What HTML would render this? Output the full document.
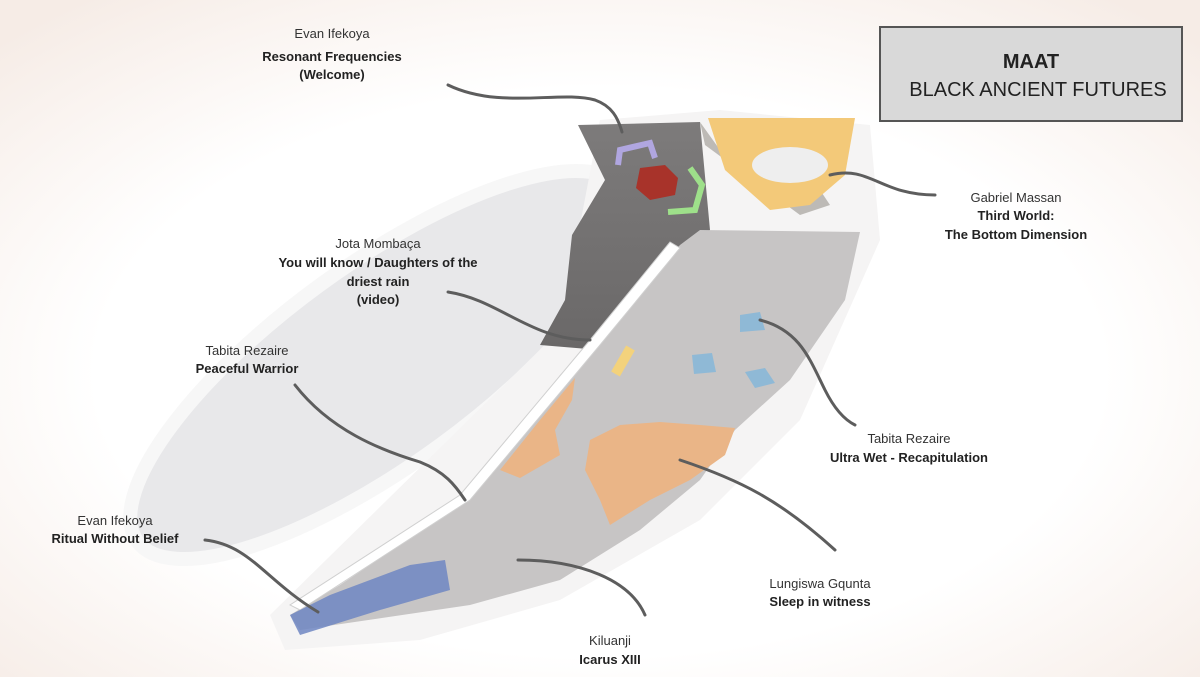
<!DOCTYPE html>
<html><head><meta charset="utf-8"><style>
html,body{margin:0;padding:0;background:#fff;}
svg{display:block;}
text{font-family:"Liberation Sans",sans-serif;font-size:13px;fill:#333;}
.b{font-weight:bold;fill:#222;}
</style></head><body>
<svg width="1200" height="677" viewBox="0 0 1200 677" xmlns="http://www.w3.org/2000/svg">
<defs>
<radialGradient id="bg" cx="0.5" cy="0.55" r="0.7">
<stop offset="0.6" stop-color="#ffffff"/><stop offset="1" stop-color="#f6ece6"/></radialGradient>
<linearGradient id="dk" x1="0" y1="0" x2="0" y2="1"><stop offset="0" stop-color="#7d7b7b"/><stop offset="1" stop-color="#6a6868"/></linearGradient>
</defs>
<rect width="1200" height="677" fill="url(#bg)"/>
<!-- ghost ellipse -->
<ellipse cx="380" cy="365" rx="300" ry="100" transform="rotate(-36 380 365)" fill="#e8e8ea" stroke="#f7f7f7" stroke-width="14"/>
<!-- outer white platform -->
<path d="M270,615 L560,330 L600,120 L720,110 L870,125 L880,240 L800,420 L700,520 L560,600 L420,640 L285,650 Z" fill="#f5f4f4"/>
<!-- dark upper area -->
<path d="M578,125 L700,122 L710,230 L690,248 L600,350 L540,345 L565,300 L572,235 L605,180 Z" fill="url(#dk)"/>
<path d="M700,122 L705,145 L800,215 L830,205 L820,190 L720,150 Z" fill="#bdbab6"/>
<!-- yellow room -->
<path d="M708,118 L855,118 L845,175 L810,205 L770,210 L725,170 Z" fill="#f3c979"/>
<ellipse cx="790" cy="165" rx="38" ry="18" fill="#eeeeee"/>
<!-- light gray main strip -->
<path d="M680,245 L700,230 L860,232 L845,300 L790,380 L735,430 L700,480 L640,530 L560,580 L470,605 L300,630 L290,615 L340,585 L460,505 L560,375 L620,310 Z" fill="#c7c5c5"/>
<!-- white wall -->
<path d="M670,242 L680,248 L600,345 L470,500 L300,610 L290,605 L460,495 L590,340 Z" fill="#ffffff" stroke="#d0d0d0"/>
<!-- orange patches -->
<path d="M500,470 L540,420 L575,378 L572,400 L555,430 L560,455 L520,478 Z" fill="#eab587"/>
<path d="M590,440 L620,425 L660,422 L700,425 L735,428 L725,455 L690,480 L650,500 L610,525 L600,500 L585,470 Z" fill="#eab587"/>
<!-- blue -->
<path d="M290,615 L330,595 L410,565 L445,560 L450,590 L380,610 L300,635 Z" fill="#6f86c2" opacity="0.85"/>
<!-- red platform & screens -->
<polygon points="640,168 665,165 678,178 675,195 650,200 636,188" fill="#a8332a"/>
<path d="M618,165 L620,150 L650,143 L655,158" fill="none" stroke="#b0a6e0" stroke-width="6"/>
<path d="M690,168 L702,185 L695,210 L668,212" fill="none" stroke="#9ee08a" stroke-width="6"/>
<!-- pyramids -->
<polygon points="740,315 760,312 765,330 740,332" fill="#8fb9d6"/>
<polygon points="692,355 712,353 716,372 694,374" fill="#8fb9d6"/>
<polygon points="745,372 765,368 775,383 755,388" fill="#8fb9d6"/>
<rect x="618" y="346" width="10" height="30" fill="#f3d27c" transform="rotate(30 623 361)"/>
<!-- connectors -->
<g fill="none" stroke="#5d5d5d" stroke-linecap="round">
<path d="M448,85 C500,110 560,90 595,100 C612,106 618,118 622,132" stroke-width="3"/>
<path d="M830,175 C870,165 880,195 935,195" stroke-width="3"/>
<path d="M448,292 C500,300 530,340 590,340" stroke-width="3"/>
<path d="M295,385 C330,430 380,450 420,462 C445,472 455,485 465,500" stroke-width="3"/>
<path d="M760,320 C800,330 810,360 825,390 C835,410 845,420 855,425" stroke-width="3"/>
<path d="M205,540 C250,545 265,580 318,612" stroke-width="3"/>
<path d="M680,460 C740,480 780,500 835,550" stroke-width="3"/>
<path d="M518,560 C580,560 630,580 645,615" stroke-width="3"/>
</g>
<!-- title box -->
<rect x="880" y="27" width="302" height="94" fill="#d9d9d9" stroke="#555" stroke-width="2"/>
<text x="1031" y="68" text-anchor="middle" class="b" style="font-size:20px">MAAT</text>
<text x="1038" y="96" text-anchor="middle" style="font-size:20px;fill:#222">BLACK ANCIENT FUTURES</text>
<!-- labels -->
<g text-anchor="middle">
<text x="332" y="38">Evan Ifekoya</text>
<text x="332" y="61" class="b">Resonant Frequencies</text>
<text x="332" y="79" class="b">(Welcome)</text>
<text x="1016" y="202">Gabriel Massan</text>
<text x="1016" y="220" class="b">Third World:</text>
<text x="1016" y="239" class="b">The Bottom Dimension</text>
<text x="378" y="248">Jota Mombaça</text>
<text x="378" y="267" class="b">You will know / Daughters of the</text>
<text x="378" y="286" class="b">driest rain</text>
<text x="378" y="304" class="b">(video)</text>
<text x="247" y="355">Tabita Rezaire</text>
<text x="247" y="373" class="b">Peaceful Warrior</text>
<text x="909" y="443">Tabita Rezaire</text>
<text x="909" y="462" class="b">Ultra Wet - Recapitulation</text>
<text x="115" y="525">Evan Ifekoya</text>
<text x="115" y="543" class="b">Ritual Without Belief</text>
<text x="820" y="588">Lungiswa Gqunta</text>
<text x="820" y="606" class="b">Sleep in witness</text>
<text x="610" y="645">Kiluanji</text>
<text x="610" y="664" class="b">Icarus XIII</text>
</g>
</svg>
</body></html>
